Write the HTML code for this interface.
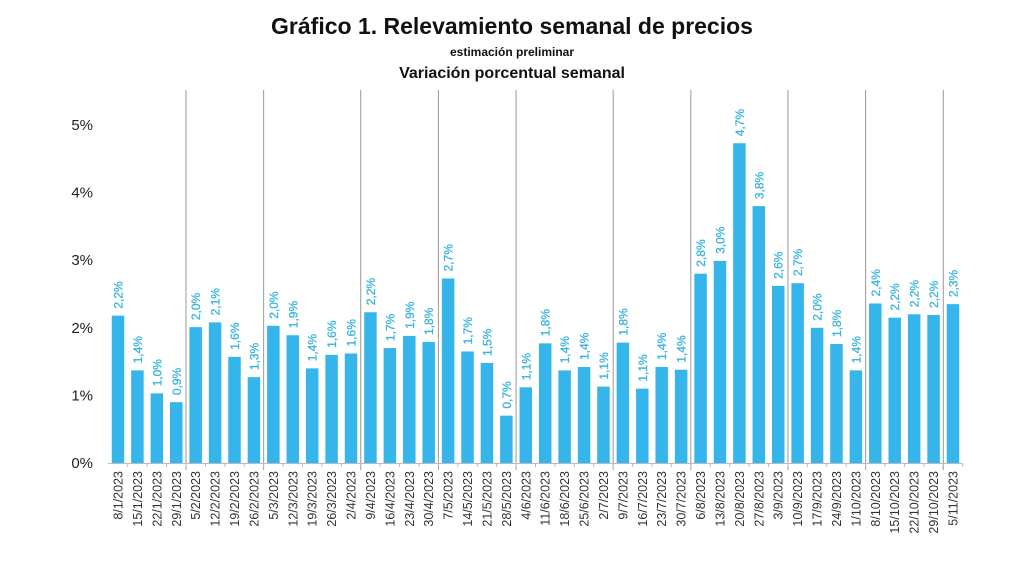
<!DOCTYPE html>
<html><head><meta charset="utf-8"><style>
body{margin:0;background:#fff;font-family:"Liberation Sans",sans-serif}
#c{position:relative;width:1024px;height:561px;overflow:hidden}
.t{position:absolute;left:0;width:1024px;text-align:center;font-weight:bold;color:#111}
</style></head><body>
<div id="c">
<div class="t" style="top:13px;font-size:23px">Gráfico 1. Relevamiento semanal de precios</div>
<div class="t" style="top:45px;font-size:12px">estimación preliminar</div>
<div class="t" style="top:65px;font-size:16px">Variación porcentual semanal</div>
<svg id="s" width="1024" height="561" style="position:absolute;left:0;top:0"></svg>
</div>
<script>
const categories=["8/1/2023","15/1/2023","22/1/2023","29/1/2023","5/2/2023","12/2/2023","19/2/2023","26/2/2023","5/3/2023","12/3/2023","19/3/2023","26/3/2023","2/4/2023","9/4/2023","16/4/2023","23/4/2023","30/4/2023","7/5/2023","14/5/2023","21/5/2023","28/5/2023","4/6/2023","11/6/2023","18/6/2023","25/6/2023","2/7/2023","9/7/2023","16/7/2023","23/7/2023","30/7/2023","6/8/2023","13/8/2023","20/8/2023","27/8/2023","3/9/2023","10/9/2023","17/9/2023","24/9/2023","1/10/2023","8/10/2023","15/10/2023","22/10/2023","29/10/2023","5/11/2023"];
const values=[2.18,1.37,1.03,0.9,2.01,2.08,1.57,1.27,2.03,1.89,1.4,1.6,1.62,2.23,1.7,1.88,1.79,2.73,1.65,1.48,0.7,1.12,1.77,1.37,1.42,1.13,1.78,1.1,1.42,1.38,2.8,2.99,4.73,3.8,2.62,2.66,2.0,1.76,1.37,2.36,2.15,2.2,2.19,2.35];
const valueLabels=["2,2%","1,4%","1,0%","0,9%","2,0%","2,1%","1,6%","1,3%","2,0%","1,9%","1,4%","1,6%","1,6%","2,2%","1,7%","1,9%","1,8%","2,7%","1,7%","1,5%","0,7%","1,1%","1,8%","1,4%","1,4%","1,1%","1,8%","1,1%","1,4%","1,4%","2,8%","3,0%","4,7%","3,8%","2,6%","2,7%","2,0%","1,8%","1,4%","2,4%","2,2%","2,2%","2,2%","2,3%"];
const yTicks=[0,1,2,3,4,5];
const yTickLabels=["0%","1%","2%","3%","4%","5%"];
const separatorsAfter=[3,7,12,16,20,25,29,34,38,42];
const NS="http://www.w3.org/2000/svg",s=document.getElementById('s');
const x0=118,step=(953-118)/(categories.length-1),bw=12.5;
const xc=i=>x0+i*step, y=v=>463-v*67.6;
function el(t,a,txt){const e=document.createElementNS(NS,t);for(const k in a)e.setAttribute(k,a[k]);if(txt!==undefined)e.textContent=txt;s.appendChild(e);return e;}
yTicks.forEach((v,i)=>{const e=el('text',{x:93,y:y(v)+5,'text-anchor':'end','font-size':15,fill:'#222'},yTickLabels[i]);

});
separatorsAfter.forEach(i=>{const e=el('line',{x1:xc(i)+step/2,x2:xc(i)+step/2,y1:90,y2:470,stroke:'#999','stroke-width':1});

});
const ax=el('line',{x1:108,x2:962,y1:463.5,y2:463.5,stroke:'#bbb','stroke-width':1});


categories.forEach((c,i)=>{
const cx=xc(i),v=values[i];
const tk=el('line',{x1:cx+step/2,x2:cx+step/2,y1:463,y2:467,stroke:'#bbb'});


const b=el('rect',{x:cx-bw/2,y:y(v),width:bw,height:463-y(v),fill:'#36b5ea'});


const ly=y(v)-7;
const l=el('text',{x:0,y:0,transform:`translate(${cx+4.5},${ly}) rotate(-90)`,'font-size':12,fill:'#3bb4dc','stroke':'#3bb4dc','stroke-width':0.3},valueLabels[i]);


const xl=el('text',{x:0,y:0,transform:`translate(${cx+4.5},${471}) rotate(-90)`,'font-size':12.5,fill:'#333','text-anchor':'end'},c);


});
</script>
</body></html>
